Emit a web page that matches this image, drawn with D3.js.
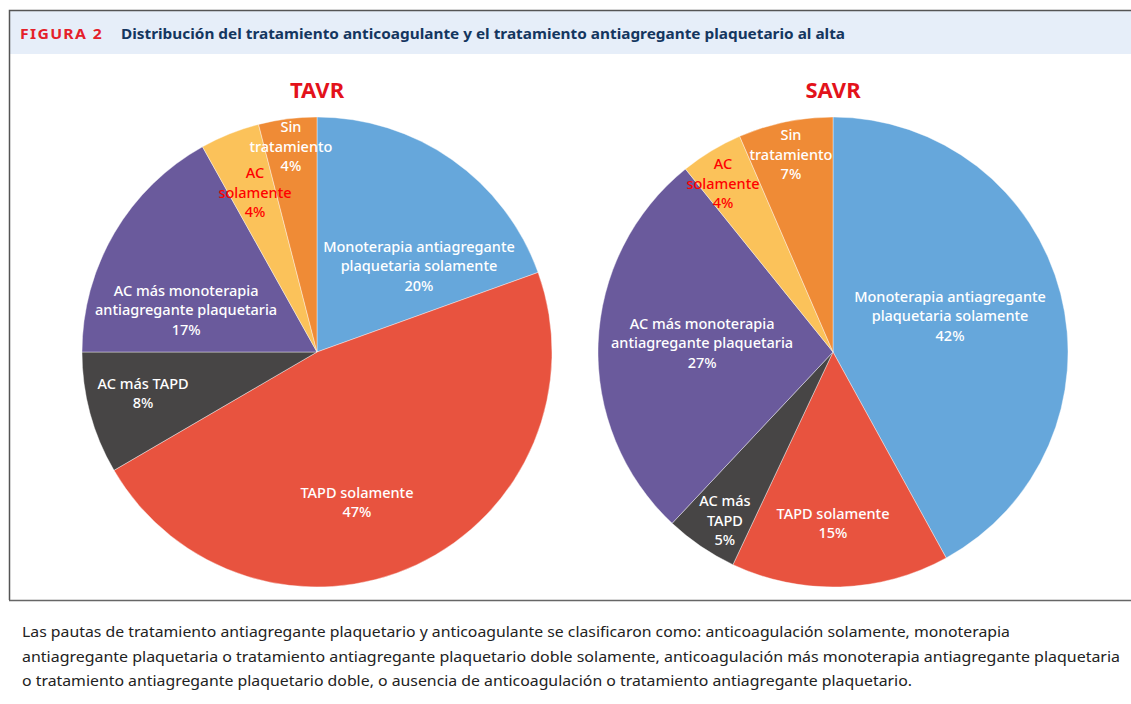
<!DOCTYPE html>
<html><head><meta charset="utf-8">
<script src="https://cdn.jsdelivr.net/npm/d3@7/dist/d3.min.js"></script>
<style>body{margin:0;background:#fff}svg{display:block}</style>
</head><body>
<svg id="c" width="1131" height="704"></svg>
<script>
const categories = ["Monoterapia antiagregante plaquetaria solamente","TAPD solamente","AC más TAPD","AC más monoterapia antiagregante plaquetaria","AC solamente","Sin tratamiento"];
const tavrValues = [19.5, 47.1, 8.4, 16.9, 4.1, 4.0];
const savrValues = [42.0, 15.0, 5.0, 27.2, 4.3, 6.5];
const tavrLabels = [["Monoterapia antiagregante","plaquetaria solamente","20%"],["TAPD solamente","47%"],["AC más TAPD","8%"],["AC más monoterapia","antiagregante plaquetaria","17%"],["AC","solamente","4%"],["Sin","tratamiento","4%"]];
const savrLabels = [["Monoterapia antiagregante","plaquetaria solamente","42%"],["TAPD solamente","15%"],["AC más","TAPD","5%"],["AC más monoterapia","antiagregante plaquetaria","27%"],["AC","solamente","4%"],["Sin","tratamiento","7%"]];
const colors = ["#66a7db","#e8533f","#474545","#6a5a9c","#fbc25a","#ef8b36"];
const labelColors = ["#fff","#fff","#fff","#fff","#ff0000","#fff"];
// label block offsets as fraction of radius (layout)
const tavrLabelPos = [[0.434,-0.366],[0.170,0.640],[-0.740,0.177],[-0.557,-0.177],[-0.264,-0.677],[-0.111,-0.874]];
const savrLabelPos = [[0.498,-0.153],[0,0.730],[-0.460,0.719],[-0.557,-0.038],[-0.468,-0.715],[-0.179,-0.840]];

const svg = d3.select("#c");
const FONT = "'Noto Sans', 'Open Sans', sans-serif";

// frame
svg.append("rect").attr("x",10).attr("y",11).attr("width",1125).attr("height",43).attr("fill","#e6eef9");
svg.append("path").attr("d","M9.5,600 V10.5 H1135").attr("fill","none").attr("stroke","#555").attr("stroke-width",1.5);
svg.append("line").attr("x1",9).attr("x2",1131).attr("y1",600.5).attr("y2",600.5).attr("stroke","#666").attr("stroke-width",1.5);

svg.append("text").attr("x",20).attr("y",38.5).attr("font-family",FONT).attr("font-weight",700)
  .attr("font-size",14).attr("letter-spacing",1.2).attr("fill","#e4202a")
  .attr("textLength",83).attr("lengthAdjust","spacingAndGlyphs").text("FIGURA 2");
svg.append("text").attr("x",121).attr("y",39).attr("font-family",FONT).attr("font-weight",700)
  .attr("font-size",15).attr("fill","#14365f")
  .attr("textLength",724).attr("lengthAdjust","spacingAndGlyphs")
  .text("Distribución del tratamiento anticoagulante y el tratamiento antiagregante plaquetario al alta");

function drawPie(cx, cy, R, title, values, labels, lpos){
  const g = svg.append("g").attr("transform",`translate(${cx},${cy})`);
  const pie = d3.pie().sort(null).value(d=>d)(values);
  const arc = d3.arc().innerRadius(0).outerRadius(R);
  g.selectAll("path.s").data(pie).join("path").attr("class","s")
    .attr("d",arc).attr("fill",(d,i)=>colors[i]).attr("stroke","#fff").attr("stroke-width",0.4);
  const lh = 19.5;
  pie.forEach((d,i)=>{
    const lines = labels[i];
    const bx = lpos[i][0]*R, by = lpos[i][1]*R;
    const t = g.append("text").attr("text-anchor","middle").attr("font-family",FONT)
      .attr("font-size",14.5).attr("font-weight",500).attr("fill",labelColors[i]);
    lines.forEach((ln,k)=>{
      t.append("tspan").attr("x",bx).attr("y",by + (k-(lines.length-1)/2)*lh + 5).text(ln);
    });
  });
  svg.append("text").attr("x",cx).attr("y",98).attr("text-anchor","middle").attr("font-family",FONT)
    .attr("font-weight",700).attr("font-size",22).attr("fill","#e3121b").text(title);
}
drawPie(317,352,235,"TAVR",tavrValues,tavrLabels,tavrLabelPos);
drawPie(833,352,235,"SAVR",savrValues,savrLabels,savrLabelPos);

const caption = ["Las pautas de tratamiento antiagregante plaquetario y anticoagulante se clasificaron como: anticoagulación solamente, monoterapia",
"antiagregante plaquetaria o tratamiento antiagregante plaquetario doble solamente, anticoagulación más monoterapia antiagregante plaquetaria",
"o tratamiento antiagregante plaquetario doble, o ausencia de anticoagulación o tratamiento antiagregante plaquetario."];
const capW = [988, 1098, 890];
caption.forEach((c,i)=>{
  svg.append("text").attr("x",22).attr("y",637+i*24.5).attr("font-family",FONT).attr("font-size",14.5)
    .attr("fill","#222").attr("textLength",capW[i]).attr("lengthAdjust","spacingAndGlyphs").text(c);
});
</script>
</body></html>
